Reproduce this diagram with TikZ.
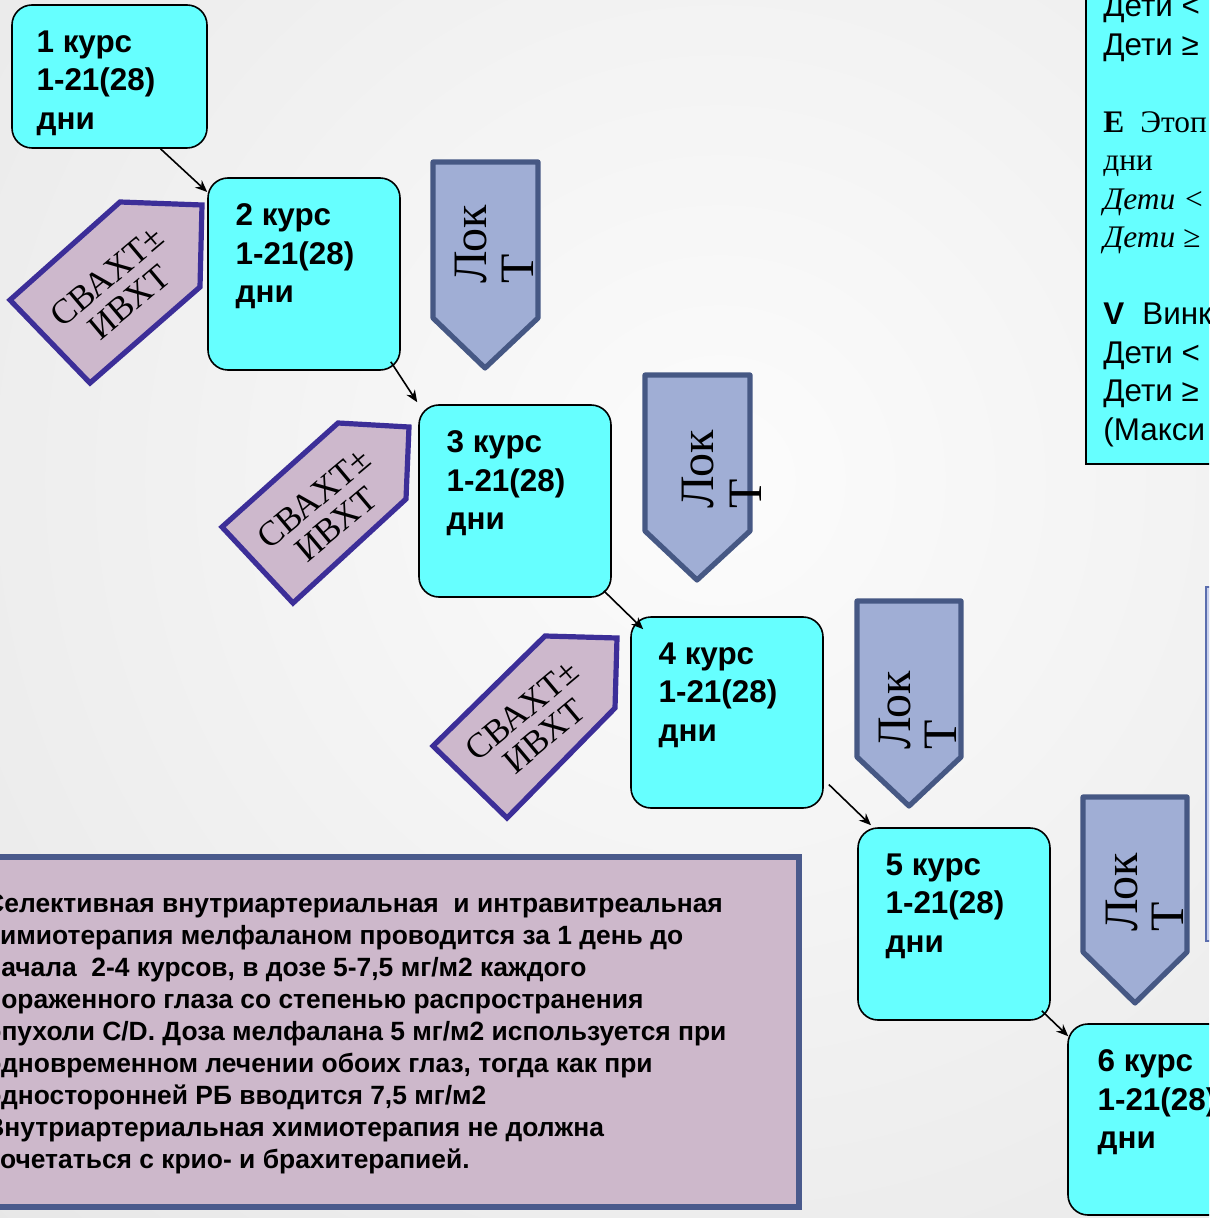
\documentclass[tikz,border=0pt]{standalone}
\usepackage{fontspec}
\setmainfont{Liberation Serif}
\newfontfamily\arialf{Liberation Sans}
\usetikzlibrary{arrows.meta,calc}
\definecolor{cyanfill}{RGB}{102,255,255}
\definecolor{pentfill}{RGB}{205,184,204}
\definecolor{pentdraw}{RGB}{60,46,152}
\definecolor{lokfill}{RGB}{160,174,213}
\definecolor{lokdraw}{RGB}{70,88,132}
\definecolor{notefill}{RGB}{205,184,203}
\definecolor{notedraw}{RGB}{74,90,140}
\definecolor{slivfill}{RGB}{200,208,236}
\definecolor{slivdraw}{RGB}{91,110,174}
\definecolor{bgout}{RGB}{222,222,222}
\definecolor{bgin}{RGB}{252,252,252}
\begin{document}
\begin{tikzpicture}[x=0.5pt,y=-0.5pt,
  course/.style={draw=black, line width=0.8pt, fill=cyanfill, rounded corners=10pt,
    minimum width=96pt, minimum height=96pt, inner sep=0pt},
  coursetext/.style={anchor=north west, inner sep=0pt, align=left,
    font=\arialf\bfseries\fontsize{15.7}{19.25}\selectfont},
  conn/.style={-{Stealth[length=6pt,width=5pt]}, line width=0.8pt},
  pent/.style={draw=pentdraw, line width=2.6pt, fill=pentfill, line join=miter},
  penttext/.style={rotate=40, align=center, inner sep=0pt,
    font=\fontsize{17.5}{17}\selectfont},
  lok/.style={draw=lokdraw, line width=2.6pt, fill=lokfill, line join=round},
  loktext/.style={rotate=90, anchor=base west, inner sep=0pt,
    font=\fontsize{24}{24}\selectfont},
  note/.style={draw=notedraw, line width=2.6pt, fill=notefill, inner sep=0pt},
  notetext/.style={anchor=north west, inner sep=0pt, align=left,
    font=\arialf\bfseries\fontsize{13.2}{16}\selectfont},
  sideline/.style={anchor=base west, inner sep=0pt, font=\fontsize{15.7}{19.25}\selectfont}
]
\useasboundingbox (0,0) rectangle (1209,1218);
\clip (0,0) rectangle (1209,1218);
% background
\shade[inner color=bgin, outer color=bgout] (720,480) circle (1500);

% top-right cyan box
\node[draw=black, line width=0.8pt, fill=cyanfill, minimum width=80pt, minimum height=240pt,
  anchor=south west, inner sep=0pt] (drugs) at (1085,465) {};
\node[sideline, font=\arialf\fontsize{15.7}{19.25}\selectfont] (d1) at (1103,17) {Дети <};
\node[sideline, font=\arialf\fontsize{15.7}{19.25}\selectfont] (d2) at (1103,55.5) {Дети ≥};
\node[sideline] (d3) at (1103,132.5) {\textbf{E}\hspace{8pt}Этоп};
\node[sideline] (d4) at (1103,171) {дни};
\node[sideline] (d5) at (1103,209.5) {\itshape Дети <};
\node[sideline] (d6) at (1103,248) {\itshape Дети ≥};
\node[sideline, font=\arialf\fontsize{15.7}{19.25}\selectfont] (d7) at (1103,325) {\textbf{V}\hspace{9pt}Винк};
\node[sideline, font=\arialf\fontsize{15.7}{19.25}\selectfont] (d8) at (1103,363.5) {Дети <};
\node[sideline, font=\arialf\fontsize{15.7}{19.25}\selectfont] (d9) at (1103,402) {Дети ≥};
\node[sideline, font=\arialf\fontsize{15.7}{19.25}\selectfont] (d10) at (1103,440.5) {(Макси};

% right sliver box
\node[draw=slivdraw, line width=1pt, fill=slivfill, minimum width=20pt, minimum height=177pt,
  anchor=north west, inner sep=0pt] (sliver) at (1205,586) {};

% course boxes
\node[course, minimum width=97.5pt, minimum height=71.5pt] (c1) at (109.5,76.5) {};
\node[course] (c2) at (304,274) {};
\node[course] (c3) at (515,501) {};
\node[course, minimum height=95.5pt] (c4) at (727,712.5) {};
\node[course] (c5) at (954,924) {};
\node[course, minimum height=95.5pt] (c6) at (1164,1119.5) {};

\node[coursetext] (t1) at ($(c1.north west)+(25,26)$) {1 курс\\1-21(28)\\дни};
\node[coursetext] (t2) at ($(c2.north west)+(28,26)$) {2 курс\\1-21(28)\\дни};
\node[coursetext] (t3) at ($(c3.north west)+(28,26)$) {3 курс\\1-21(28)\\дни};
\node[coursetext] (t4) at ($(c4.north west)+(28,26)$) {4 курс\\1-21(28)\\дни};
\node[coursetext] (t5) at ($(c5.north west)+(28,26)$) {5 курс\\1-21(28)\\дни};
\node[coursetext] (t6) at ($(c6.north west)+(30,26)$) {6 курс\\1-21(28)\\дни};

% connectors
\draw[conn] ($(c1.south)+(51,0)$) -- ($(c2.west)+(0,-82)$);
\draw[conn] ($(c2.south east)+(-10,-9)$) -- ($(c3.north west)+(-1,-2)$);
\draw[conn] ($(c3.south east)+(-8,-7)$) -- ($(c4.north west)+(13,13)$);
\draw[conn] ($(c4.east)+(5,72)$) -- ($(c5.north)+(-83,-2)$);
\draw[conn] ($(c5.south east)+(-9,-10)$) -- ($(c6.north west)+(1,13)$);

% SVAKhT pentagons
\draw[pent] (120,202) -- (202,205) -- (200,287) -- (90,383) -- (10,300) -- cycle;
\node[penttext] (p1) at (118,289) {СВАХТ±\\ИВХТ};
\draw[pent] (338,423) -- (409,427) -- (406,499) -- (293,603) -- (222,527) -- cycle;
\node[penttext] (p2) at (325,511) {СВАХТ±\\ИВХТ};
\draw[pent] (545,636) -- (617,638) -- (615,708) -- (507,818) -- (433,746) -- cycle;
\node[penttext] (p3) at (533,723) {СВАХТ±\\ИВХТ};

% Lok T arrows
\draw[lok] (433,162) -- (538,162) -- (538,318) -- (485,368) -- (433,318) -- cycle;
\node[loktext] (l1a) at (486,284) {Лок};
\node[loktext] (l1b) at (533,284) {Т};
\draw[lok] (645,375) -- (750,375) -- (750,531) -- (697,580) -- (645,531) -- cycle;
\node[loktext] (l2a) at (713,509) {Лок};
\node[loktext] (l2b) at (761,509) {Т};
\draw[lok] (857,601) -- (961,601) -- (961,757) -- (909,806) -- (857,757) -- cycle;
\node[loktext] (l3a) at (910,750) {Лок};
\node[loktext] (l3b) at (956,750) {Т};
\draw[lok] (1083,797) -- (1187,797) -- (1187,952) -- (1135,1003) -- (1083,952) -- cycle;
\node[loktext] (l4a) at (1137,932) {Лок};
\node[loktext] (l4b) at (1183,932) {Т};

% note box
\node[note, minimum width=409.5pt, minimum height=175pt] (note) at (389.5,1032) {};
\node[notetext] (notet) at (-15,894) {Селективная внутриартериальная\ \ и интравитреальная\\
химиотерапия мелфаланом проводится за 1 день до\\
начала\ \ 2-4 курсов, в дозе 5-7,5 мг/м2 каждого\\
пораженного глаза со степенью распространения\\
опухоли C/D. Доза мелфалана 5 мг/м2 используется при\\
одновременном лечении обоих глаз, тогда как при\\
односторонней РБ вводится 7,5 мг/м2\\
Внутриартериальная химиотерапия не должна\\
сочетаться с крио- и брахитерапией.};
\end{tikzpicture}
\end{document}
